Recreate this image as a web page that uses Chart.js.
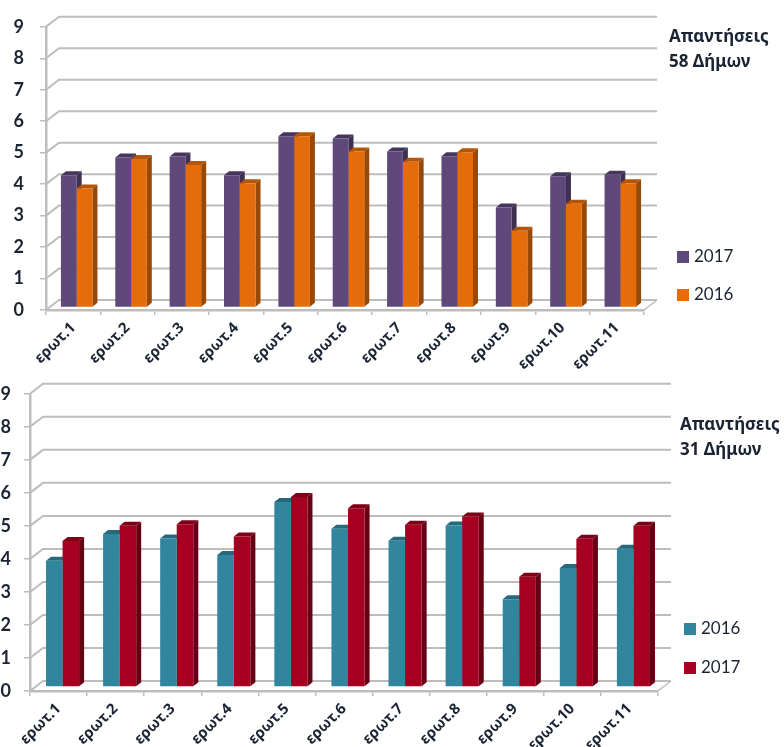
<!DOCTYPE html>
<html>
<head>
<meta charset="utf-8">
<title>Απαντήσεις Δήμων</title>
<script src="https://cdn.jsdelivr.net/npm/chart.js@4/dist/chart.umd.js"></script>
<style>
  html, body { margin: 0; padding: 0; background: #fff; }
  body { position: relative; width: 784px; height: 747px; overflow: hidden; font-family: "Noto Sans", sans-serif; color: #1b2433; }
  canvas { position: absolute; left: 0; }
  #chart_58 { top: 0; }
  #chart_31 { top: 370px; }
  .note { position: absolute; font-weight: bold; font-size: 17px; line-height: 25px; white-space: nowrap; }
  .legend-item { position: absolute; font-family: Lato, sans-serif; font-size: 17px; line-height: 18px; white-space: nowrap; }
  .legend-item i { display: inline-block; width: 12px; height: 12px; margin-right: 5px; vertical-align: -1px; }
</style>
</head>
<body>
<canvas id="chart_58" width="784" height="370"></canvas>
<canvas id="chart_31" width="784" height="377"></canvas>
<div class="note" style="left:669px;top:23px">Απαντήσεις<br>58 Δήμων</div>
<div class="note" style="left:680px;top:411px">Απαντήσεις<br>31 Δήμων</div>
<div id="legend_58"></div>
<div id="legend_31"></div>
<script>
const categories = ['ερωτ.1', 'ερωτ.2', 'ερωτ.3', 'ερωτ.4', 'ερωτ.5', 'ερωτ.6', 'ερωτ.7', 'ερωτ.8', 'ερωτ.9', 'ερωτ.10', 'ερωτ.11'];

// top chart, 58 municipalities
const top2017 = [4.2, 4.77, 4.8, 4.2, 5.44, 5.37, 4.96, 4.81, 3.18, 4.17, 4.22];
const top2016 = [3.78, 4.72, 4.53, 3.95, 5.44, 4.96, 4.63, 4.93, 2.44, 3.3, 3.95];

// bottom chart, 31 municipalities
const bottom2016 = [3.82, 4.63, 4.5, 4.0, 5.6, 4.79, 4.43, 4.89, 2.66, 3.6, 4.19];
const bottom2017 = [4.42, 4.88, 4.93, 4.56, 5.75, 5.41, 4.91, 5.16, 3.34, 4.49, 4.88];

const purple = { front: '#5f497a', side: '#3f3051', top: '#47365c' };
const orange = { front: '#e46c0a', side: '#984807', top: '#b35608' };
const teal = { front: '#31859c', side: '#215968', top: '#27697b' };
const red = { front: '#a50021', side: '#660014', top: '#7d0019' };

const axisGray = '#bdbdbd';
const tickFont = { family: 'Lato, sans-serif', size: 18, weight: 'bold' };
const catFont = { family: '"Noto Sans", sans-serif', size: 15, weight: 'bold' };
const textColor = '#1b2433';

// back wall with the grid lines, pushed back from the front axes
const wallPlugin = {
  id: 'wall',
  beforeDraw(chart, args, opts) {
    const ctx = chart.ctx;
    const y = chart.scales.y;
    const area = chart.chartArea;
    ctx.save();
    ctx.lineWidth = 2;
    ctx.strokeStyle = axisGray;
    y.ticks.forEach(t => {
      const py = y.getPixelForValue(t.value);
      ctx.beginPath();
      ctx.moveTo(area.left, py);
      ctx.lineTo(area.left + opts.dx, py - opts.dy);
      ctx.lineTo(area.right + opts.dx, py - opts.dy);
      ctx.stroke();
    });
    ctx.lineWidth = 1.5;
    ctx.beginPath();
    ctx.moveTo(area.right, area.bottom);
    ctx.lineTo(area.right + opts.dx, area.bottom - opts.dy);
    ctx.stroke();
    ctx.restore();
  }
};

// bars stand a little behind the front axes, side and top faces go first
const depthPlugin = {
  id: 'depth',
  beforeDatasetsDraw(chart, args, opts) {
    const ctx = chart.ctx;
    ctx.save();
    ctx.translate(opts.shiftX, -opts.shiftY);
    chart.data.datasets.forEach((ds, i) => {
      chart.getDatasetMeta(i).data.forEach(bar => {
        const left = bar.x - bar.width / 2;
        const right = bar.x + bar.width / 2;
        ctx.fillStyle = ds.sideColor;
        ctx.beginPath();
        ctx.moveTo(right, bar.y);
        ctx.lineTo(right + opts.dx, bar.y - opts.dy);
        ctx.lineTo(right + opts.dx, bar.base - opts.dy);
        ctx.lineTo(right, bar.base);
        ctx.fill();
        ctx.fillStyle = ds.topColor;
        ctx.beginPath();
        ctx.moveTo(left, bar.y);
        ctx.lineTo(left + opts.dx, bar.y - opts.dy);
        ctx.lineTo(right + opts.dx, bar.y - opts.dy);
        ctx.lineTo(right, bar.y);
        ctx.fill();
      });
    });
  },
  afterDatasetsDraw(chart) {
    chart.ctx.restore();
  }
};

function makeDataset(label, values, colors) {
  return {
    label: label,
    data: values,
    backgroundColor: colors.front,
    sideColor: colors.side,
    topColor: colors.top,
    barPercentage: 1,
    categoryPercentage: 0.58,
    clip: false
  };
}

function makeChart(id, datasets, box) {
  return new Chart(document.getElementById(id), {
    type: 'bar',
    data: { labels: categories, datasets: datasets },
    plugins: [wallPlugin, depthPlugin],
    options: {
      responsive: false,
      animation: false,
      layout: { padding: { left: 0, top: box.top, right: box.right, bottom: 0 } },
      plugins: {
        legend: { display: false },
        tooltip: { enabled: false },
        wall: { dx: 13, dy: 10 },
        depth: { dx: 5, dy: 4, shiftX: box.shiftX, shiftY: box.shiftY }
      },
      scales: {
        x: {
          afterFit(s) { s.height = box.xHeight; },
          grid: { offset: true, drawOnChartArea: false, color: axisGray, lineWidth: 1.5, tickLength: 5 },
          border: { color: axisGray, width: 2.5 },
          ticks: { color: textColor, font: catFont, minRotation: 45, maxRotation: 45, autoSkip: false, padding: 4 }
        },
        y: {
          min: 0,
          max: 9,
          afterFit(s) { s.width = box.left; },
          grid: { drawOnChartArea: false, color: axisGray, lineWidth: 1.5, tickLength: 6 },
          border: { color: axisGray, width: 2.5 },
          ticks: { color: textColor, font: tickFont, stepSize: 1, padding: box.tickPad }
        }
      }
    }
  });
}

// legend
function makeLegend(id, chart, x, ys) {
  const holder = document.getElementById(id);
  chart.data.datasets.forEach((ds, i) => {
    const item = document.createElement('div');
    item.className = 'legend-item';
    item.style.left = x + 'px';
    item.style.top = ys[i] + 'px';
    const swatch = document.createElement('i');
    swatch.style.background = ds.backgroundColor;
    item.appendChild(swatch);
    item.appendChild(document.createTextNode(ds.label));
    holder.appendChild(item);
  });
}

const chart58 = makeChart('chart_58',
  [makeDataset('2017', top2017, purple), makeDataset('2016', top2016, orange)],
  { left: 46, right: 140, top: 26, xHeight: 60, tickPad: 16, shiftX: 3.5, shiftY: 2.5 });

const chart31 = makeChart('chart_31',
  [makeDataset('2016', bottom2016, teal), makeDataset('2017', bottom2017, red)],
  { left: 30, right: 126, top: 18, xHeight: 56, tickPad: 13, shiftX: 4, shiftY: 4 });

makeLegend('legend_58', chart58, 677, [247, 285]);
makeLegend('legend_31', chart31, 684, [619, 658]);
</script>
</body>
</html>
